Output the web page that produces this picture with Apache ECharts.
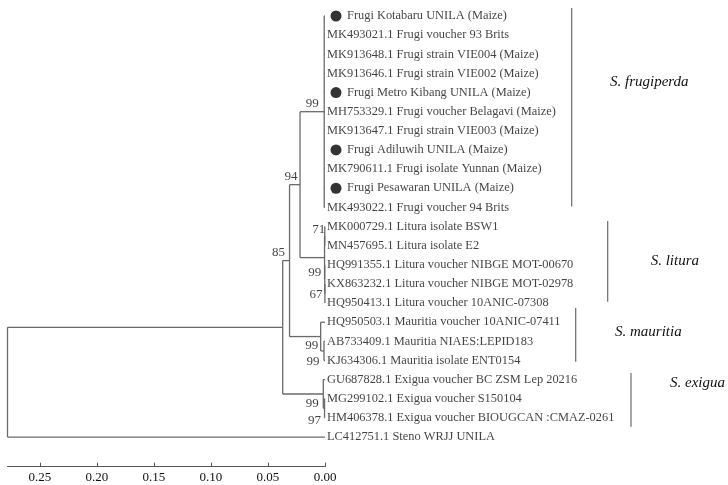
<!DOCTYPE html>
<html><head><meta charset="utf-8">
<script src="https://cdn.jsdelivr.net/npm/echarts@6/dist/echarts.min.js"></script>
<style>html,body{margin:0;padding:0;background:#fff}#c{width:728px;height:485px}</style>
</head><body><div id="c"></div>
<script>
// ---------- DATA ----------
const leafNames = [
  'Frugi Kotabaru UNILA (Maize)',
  'MK493021.1 Frugi voucher 93 Brits',
  'MK913648.1 Frugi strain VIE004 (Maize)',
  'MK913646.1 Frugi strain VIE002 (Maize)',
  'Frugi Metro Kibang UNILA (Maize)',
  'MH753329.1 Frugi voucher Belagavi (Maize)',
  'MK913647.1 Frugi strain VIE003 (Maize)',
  'Frugi Adiluwih UNILA (Maize)',
  'MK790611.1 Frugi isolate Yunnan (Maize)',
  'Frugi Pesawaran UNILA (Maize)',
  'MK493022.1 Frugi voucher 94 Brits',
  'MK000729.1 Litura isolate BSW1',
  'MN457695.1 Litura isolate E2',
  'HQ991355.1 Litura voucher NIBGE MOT-00670',
  'KX863232.1 Litura voucher NIBGE MOT-02978',
  'HQ950413.1 Litura voucher 10ANIC-07308',
  'HQ950503.1 Mauritia voucher 10ANIC-07411',
  'AB733409.1 Mauritia NIAES:LEPID183',
  'KJ634306.1 Mauritia isolate ENT0154',
  'GU687828.1 Exigua voucher BC ZSM Lep 20216',
  'MG299102.1 Exigua voucher S150104',
  'HM406378.1 Exigua voucher BIOUGCAN :CMAZ-0261',
  'LC412751.1 Steno WRJJ UNILA'
];
const markedLeaves = [0, 4, 7, 9];   // new UNILA samples (black dots)

const nodeNames    = ['root','A','B','C','frugi','litura','lit1','lit2','lit3','mau','mau2','exi','exi2'];
const nodeHeights  = [0.2785, 0.0371, 0.0311, 0.0219, 0.0007, 0.0004, 0.0002, 0.0002, 0.0001, 0.0038, 0.0009, 0.0015, 0.0004];
const nodeChildren = [
  ['A', 22], ['B', 'exi'], ['C', 'mau'], ['frugi', 'litura'],
  [0,1,2,3,4,5,6,7,8,9,10], ['lit1', 'lit2'], [11, 12], [13, 'lit3'], [14, 15],
  [16, 'mau2'], [17, 18], [19, 'exi2'], [20, 21]
];
const nodeSupport  = [null, null, 85, 94, 99, null, 71, 99, 67, 99, 99, 99, 97];

const axisTicks = [0, 0.05, 0.10, 0.15, 0.20, 0.25];

const cladeNames     = ['S. frugiperda', 'S. litura', 'S. mauritia', 'S. exigua'];
const cladeFirstLeaf = [0, 11, 16, 19];
const cladeLastLeaf  = [10, 15, 18, 21];

// ---------- STYLE / LAYOUT ----------
const FONT = 'Liberation Serif';
const TXT = '#111';
const LINE = '#6a6a6a';
const supportOffset = { B:[-11,-8.5], C:[-9,-8], frugi:[-12,-8], lit1:[-6,-7], lit2:[-10,-7], lit3:[-9,1.5],
                        mau:[-9,9], mau2:[-11,11], exi:[-11,10], exi2:[-10,12] };
const cladeBarX    = [571.7, 607.7, 575.7, 631];
const cladeBarPad  = [[-0.42, -0.04], [-0.29, -0.07], [-0.74, 0.06], [-0.35, 0.46]];
const cladeLabelX  = [610, 650.7, 615, 670];
const cladeLabelRow= [3.43, 12.79, 16.49, 19.19];

// ---------- TREE LAYOUT ----------
const idx = {}; nodeNames.forEach((n, i) => idx[n] = i);
const nodeY = {};
function yOf(c) {
  if (typeof c === 'number') return c;
  if (nodeY[c] !== undefined) return nodeY[c];
  const ch = nodeChildren[idx[c]];
  const y = (yOf(ch[0]) + yOf(ch[ch.length - 1])) / 2;
  nodeY[c] = y; return y;
}
function hOf(c) { return typeof c === 'number' ? 0 : nodeHeights[idx[c]]; }
const segs = [];
nodeNames.forEach((n, i) => {
  const h = nodeHeights[i], ch = nodeChildren[i];
  segs.push([h, yOf(ch[0]), h, yOf(ch[ch.length - 1])]);
  ch.forEach(c => segs.push([h, yOf(c), hOf(c), yOf(c)]));
});

const leafData = leafNames.map((name, i) => {
  const marked = markedLeaves.includes(i);
  return { value: [0, i], name: name, label: { offset: [marked ? 20 : 0, 0] } };
});
const dotData = markedLeaves.map(i => [0, i]);
const supportData = [];
nodeNames.forEach((n, i) => {
  if (nodeSupport[i] == null) return;
  supportData.push({ value: [nodeHeights[i], yOf(n)], name: String(nodeSupport[i]),
                     label: { offset: supportOffset[n] || [-8, -8] } });
});
const cladeData = cladeNames.map((n, i) => [cladeFirstLeaf[i], cladeLastLeaf[i], i]);

const chart = echarts.init(document.getElementById('c'), null, { renderer: 'canvas' });
chart.setOption({
  animation: false,
  backgroundColor: '#fff',
  grid: { left: 7.5, right: 403, top: 16, bottom: 18.3 },
  xAxis: {
    type: 'value', inverse: true, min: 0, max: nodeHeights[0], position: 'bottom',
    splitLine: { show: false },
    axisLine: { onZero: false, lineStyle: { color: '#555', width: 1 } },
    axisTick: { customValues: axisTicks, inside: true, length: 4, lineStyle: { color: '#555' } },
    axisLabel: { customValues: axisTicks, formatter: v => v.toFixed(2), fontFamily: FONT, fontSize: 13, color: TXT, margin: 4 }
  },
  yAxis: { type: 'value', inverse: true, min: 0, max: 23.55, show: false },
  series: [
    {
      type: 'custom', coordinateSystem: 'cartesian2d', clip: false, silent: true,
      data: segs, encode: { x: [0, 2], y: [1, 3] },
      renderItem: (p, api) => {
        const a = api.coord([api.value(0), api.value(1)]);
        const b = api.coord([api.value(2), api.value(3)]);
        return { type: 'line', shape: { x1: a[0], y1: a[1], x2: b[0], y2: b[1] },
                 style: { stroke: LINE, lineWidth: 1.3 } };
      }
    },
    {
      type: 'scatter', symbolSize: 0, silent: true, data: leafData,
      label: { show: true, position: 'right', distance: 2, formatter: p => p.name,
               fontFamily: FONT, fontSize: 12.4, color: TXT }
    },
    {
      type: 'scatter', symbol: 'circle', symbolSize: 11, symbolOffset: [11, 0], silent: true,
      itemStyle: { color: '#000' }, data: dotData
    },
    {
      type: 'scatter', symbolSize: 0, silent: true, data: supportData,
      label: { show: true, position: 'inside', formatter: p => p.name,
               fontFamily: FONT, fontSize: 13, color: TXT }
    },
    {
      type: 'custom', coordinateSystem: 'cartesian2d', clip: false, silent: true,
      data: cladeData, encode: { y: [0, 1] },
      renderItem: (p, api) => {
        const i = api.value(2);
        const y1 = api.coord([0, api.value(0) + cladeBarPad[i][0]])[1];
        const y2 = api.coord([0, api.value(1) + cladeBarPad[i][1]])[1];
        const yl = api.coord([0, cladeLabelRow[i]])[1];
        return { type: 'group', children: [
          { type: 'line', shape: { x1: cladeBarX[i], y1: y1, x2: cladeBarX[i], y2: y2 },
            style: { stroke: LINE, lineWidth: 1.2 } },
          { type: 'text', x: cladeLabelX[i], y: yl,
            style: { text: cladeNames[i], fontFamily: FONT, fontStyle: 'italic', fontSize: 15,
                     fill: TXT, verticalAlign: 'middle', align: 'left' } }
        ] };
      }
    }
  ]
});
</script></body></html>
